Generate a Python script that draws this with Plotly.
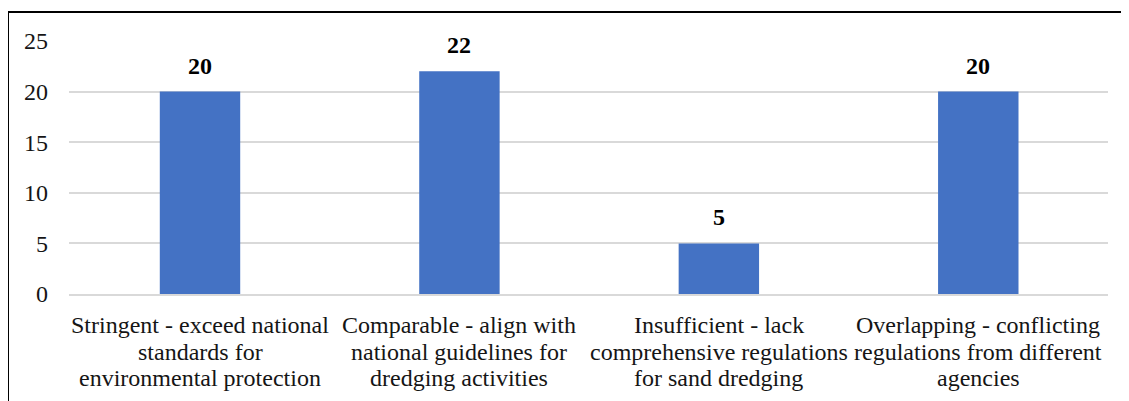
import plotly.graph_objects as go

categories = [
    "Stringent - exceed national standards for environmental protection",
    "Comparable - align with national guidelines for dredging activities",
    "Insufficient - lack comprehensive regulations for sand dredging",
    "Overlapping - conflicting regulations from different agencies",
]
label_lines = [
    ["Stringent - exceed national", "standards for", "environmental protection"],
    ["Comparable - align with", "national guidelines for", "dredging activities"],
    ["Insufficient - lack", "comprehensive regulations", "for sand dredging"],
    ["Overlapping - conflicting", "regulations from different", "agencies"],
]
counts = [20, 22, 5, 20]
y_ticks = [0, 5, 10, 15, 20, 25]

# the page has an 8px body margin, so the figure is 8px smaller than the window
W, H = 1121, 393
ml, mt = 61, 33
pw, ph = 1039, 253
mr, mb = W - ml - pw, H - mt - ph
serif = "Liberation Serif"

fig = go.Figure()
fig.add_trace(go.Bar(
    x=categories, y=counts, width=0.31,
    marker=dict(color="#4472C4", line_width=0),
))

# value labels above the bars
for cat, c in zip(categories, counts):
    fig.add_annotation(x=cat, y=c, text="<b>%d</b>" % c, showarrow=False,
                       yanchor="bottom", yshift=11,
                       font=dict(family=serif, size=24, color="black"))

# category labels, one line at a time (tight Excel-like line spacing)
for cat, lines in zip(categories, label_lines):
    for i, line in enumerate(lines):
        fig.add_annotation(x=cat, y=0, yref="paper", text=line, showarrow=False,
                           yanchor="top", yshift=-16 - 26.5 * i,
                           font=dict(family=serif, size=24, color="#151515"))

# frame around the chart (runs off the right and bottom edges)
fig.add_shape(type="rect", xref="paper", yref="paper",
              x0=(0 - ml) / pw, x1=(W + 20 - ml) / pw,
              y0=-(mb + 20) / ph, y1=(H - mb - 4) / ph,
              line=dict(color="black", width=2), layer="above")

fig.update_layout(
    width=W, height=H,
    margin=dict(l=ml, r=mr, t=mt, b=mb),
    plot_bgcolor="white", paper_bgcolor="white",
    showlegend=False,
    font=dict(family=serif, size=24, color="#151515"),
)
fig.update_yaxes(range=[0, 25], tickvals=y_ticks, showgrid=True,
                 gridcolor="#d9d9d9", gridwidth=1.5, zeroline=False,
                 ticklabelstandoff=20, showline=False)
fig.update_xaxes(showline=True, linecolor="#d9d9d9", linewidth=1.5,
                 ticks="", showticklabels=False)

fig.write_html("out.html")
